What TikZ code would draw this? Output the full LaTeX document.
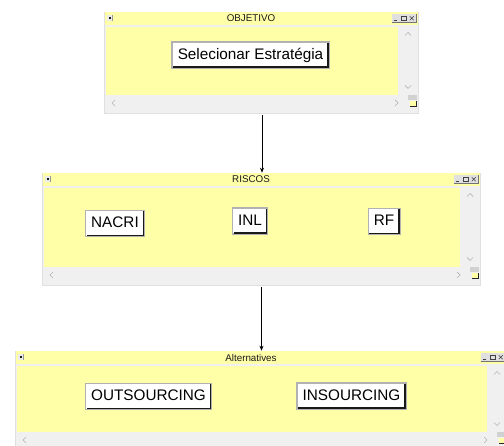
\documentclass[tikz,border=0pt]{standalone}
\usepackage{fontspec}
\setmainfont{Liberation Sans}
\usetikzlibrary{arrows.meta,fit}
\definecolor{winyellow}{HTML}{FFFFA8}
\definecolor{wingray}{HTML}{F0F0F0}
\definecolor{glyphgray}{HTML}{B4B4B4}
\tikzset{
  winframe/.style={draw=black!12, fill=wingray, inner sep=0pt, line width=0.6pt},
  wintitle/.style={font=\fontsize{9.8}{11}\selectfont, text=black!90, inner sep=0pt},
  glyph/.style={draw=glyphgray, line width=0.7pt},
  iconline/.style={draw=black!75, line width=0.5pt},
  btn/.style={font=\fontsize{15.3}{18}\selectfont, fill=white, draw=black!30, line width=1.6pt,
    minimum height=26pt, inner xsep=5.5pt, inner ysep=0pt, text height=11.5pt, text depth=3pt},
  btnshadow/.style={draw=black!90, line width=1.5pt},
  conn/.style={draw=black, line width=0.6pt, -{Stealth[length=5pt,width=4pt]}, shorten <=2pt}
}
\newcommand\mywindow[6]{%
  \path (#2,#3) coordinate (#1-nw) (#4,#5) coordinate (#1-se);
  \node[winframe, fit=(#1-nw)(#1-se)] (#1) {};
  \fill[winyellow] (#2+0.5,#3+0.5) rectangle (#4-0.5,#3+13);
  \fill[winyellow] (#2+2,#3+15) rectangle (#4-20,#5-18);
  \node[wintitle] (#1-title) at ({(#2+#4-20)/2},#3+6.5) {#6};
  % left system icon
  \fill[black!40] (#2+3,#3+3) rectangle (#2+9,#3+9.5);
  \fill[black!8] (#2+3,#3+3) rectangle (#2+8.2,#3+8.7);
  \fill[black!90] (#2+4.6,#3+4.6) rectangle (#2+6.8,#3+7);
  % right icons
  \foreach \k in {26,18,10} {
    \fill[black!12] (#4-\k,#3+2.5) rectangle (#4-\k+8,#3+10);
    \draw[black!55, line width=0.4pt] (#4-\k,#3+10) -- (#4-\k+8,#3+10) -- (#4-\k+8,#3+2.5);
  }
  \draw[iconline] (#4-24.5,#3+8.3) -- (#4-21.5,#3+8.3);
  \draw[iconline] (#4-16.3,#3+4.3) rectangle (#4-11.8,#3+8.3);
  \draw[iconline] (#4-8.2,#3+4.3) -- (#4-4.2,#3+8.3) (#4-8.2,#3+8.3) -- (#4-4.2,#3+4.3);
  % scroll glyphs
  \draw[glyph] (#4-13,#3+23.5) -- (#4-10,#3+20.5) -- (#4-7,#3+23.5);
  \draw[glyph] (#4-13,#5-27.5) -- (#4-10,#5-24.5) -- (#4-7,#5-27.5);
  \draw[glyph] (#2+11,#5-13) -- (#2+8,#5-10) -- (#2+11,#5-7);
  \draw[glyph] (#4-23,#5-13) -- (#4-20,#5-10) -- (#4-23,#5-7);
  \fill[black!18] (#4-10,#5-18) rectangle (#4-1,#5-13);
  \fill[black!85] (#4-8,#5-12) rectangle (#4-1.5,#5-5.5);
  \fill[winyellow] (#4-8,#5-12) rectangle (#4-2.5,#5-6.5);
}
\newcommand\mybtnshadow[1]{%
  \draw[btnshadow] ([shift={(-1.6pt,-1.8pt)}]#1.north east) -- ([shift={(-1.6pt,1.6pt)}]#1.south east) -- ([shift={(1.8pt,1.6pt)}]#1.south west);
}
\begin{document}
\begin{tikzpicture}[x=1pt,y=-1pt]
  \useasboundingbox (0,0) rectangle (504,446);
  \clip (0,0) rectangle (504,446);
  \fill[white] (0,0) rectangle (504,446);

  \mywindow{w1}{104}{12}{418}{113}{OBJETIVO}
  \mywindow{w2}{42}{173}{480}{285}{RISCOS}
  \mywindow{w3}{15}{351}{507}{450}{Alternatives}

  \node[btn] (sel) at (250.5,55) {Selecionar Estratégia};
  \mybtnshadow{sel}

  \node[btn] (nacri) at (115,223.5) {NACRI};
  \mybtnshadow{nacri}
  \node[btn] (inl) at (250,221) {INL};
  \mybtnshadow{inl}
  \node[btn] (rf) at (384,221.5) {RF};
  \mybtnshadow{rf}

  \node[btn] (out) at (148.5,396.5) {OUTSOURCING};
  \mybtnshadow{out}
  \node[btn] (ins) at (351.5,396) {INSOURCING};
  \mybtnshadow{ins}

  \draw[conn] ([xshift=1pt]w1.south) -- ([xshift=1pt]w2.north);
  \draw[conn] ([xshift=0.5pt]w2.south) -- ([xshift=0.5pt]w3.north);
\end{tikzpicture}
\end{document}
